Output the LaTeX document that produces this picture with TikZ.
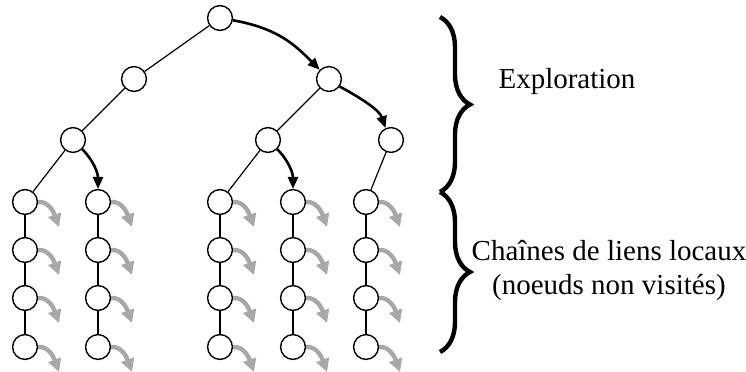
\documentclass[tikz,border=0pt]{standalone}
\usepackage{fontspec}
\setmainfont{Liberation Serif}
\usepackage{tikz}
\usetikzlibrary{arrows.meta,decorations.pathreplacing,positioning}
\definecolor{localgray}{gray}{0.66}

\begin{document}
\begin{tikzpicture}[x=0.5pt,y=-0.5pt]
\tikzset{NODE/.style={draw,circle,line width=0.7pt,minimum size=12.4pt,inner sep=0pt}}
\tikzset{TREE/.style={draw,line width=0.6pt}}
\tikzset{EXPLORE/.style={draw,line width=1.3pt,-{Triangle[length=6pt,width=5pt]}}}
\tikzset{LOCAL/.style={draw,line width=2.2pt,color=localgray,-{Triangle[length=6.5pt,width=6.5pt]}}}
\tikzset{BRACE/.style={draw,line width=2.2pt,decorate,decoration={brace,amplitude=15pt}}}
\tikzset{LABEL/.style={font=\fontsize{14.5}{17}\selectfont,align=center}}

\useasboundingbox (0,0) rectangle (746,371);

\node[NODE] (root) at (220,18) {};
\path (root)
  -- +(-86,61) node[NODE] (left) {}
  -- +(+109,61) node[NODE] (right) {};
\path (left)
  -- +(-61,61) node[NODE] (left left) {};
\path (right)
  -- +(-61,61) node[NODE] (right left) {}
  -- +(+62,61) node[NODE] (right right) {};

\path (left left)
  -- +(-48,62) node[NODE] (chain a1) {}
  -- +(+25,62) node[NODE] (chain b1) {};
\path (right left)
  -- +(-48,62) node[NODE] (chain c1) {}
  -- +(+25,62) node[NODE] (chain d1) {};
\path (right right)
  -- +(-25,62) node[NODE] (chain e1) {};

\foreach \c in {a,b,c,d,e} {
  \path (chain \c1)
    -- +(0,48) node[NODE] (chain \c2) {}
    -- +(0,96) node[NODE] (chain \c3) {}
    -- +(0,145) node[NODE] (chain \c4) {};
  \path [TREE] (chain \c1) -- (chain \c2) -- (chain \c3) -- (chain \c4);
}

\path [TREE] (root) -- (left);
\path [TREE] (left) -- (left left);
\path [TREE] (right) -- (right left);
\path [TREE] (left left) -- (chain a1);
\path [TREE] (right left) -- (chain c1);
\path [TREE] (right right) -- (chain e1);

\path [EXPLORE] (root.-10) .. controls +(45,8) and +(-25,-25) .. (right.135);
\path [EXPLORE] (right.-35) .. controls +(22,12) and +(-6,-18) .. (right right.115);
\path [EXPLORE] (left left.-45) .. controls +(12,12) and +(0,-15) .. (chain b1.north);
\path [EXPLORE] (right left.-45) .. controls +(12,12) and +(0,-15) .. (chain d1.north);

% liens locaux
\foreach \c in {a,b,c,d,e} {
  \foreach \i in {1,...,4} {
    \path (chain \c\i) ++(34,25) coordinate (local \c\i);
    \path [LOCAL] (chain \c\i.east) .. controls +(11,-1) and +(-5,-14) .. (local \c\i);
  }
}

\coordinate (explore top) at (440,17);
\coordinate (explore bottom) at (440,192);
\coordinate (chains bottom) at (440,352);
\path [BRACE] (explore top) -- (explore bottom);
\path [BRACE] (explore bottom) -- (chains bottom);

\node[LABEL] (exploration) at (567,82) {Exploration};
\node[LABEL] (chains) at (609,270) {Chaînes de liens locaux\\(noeuds non visités)};

\end{tikzpicture}
\end{document}
